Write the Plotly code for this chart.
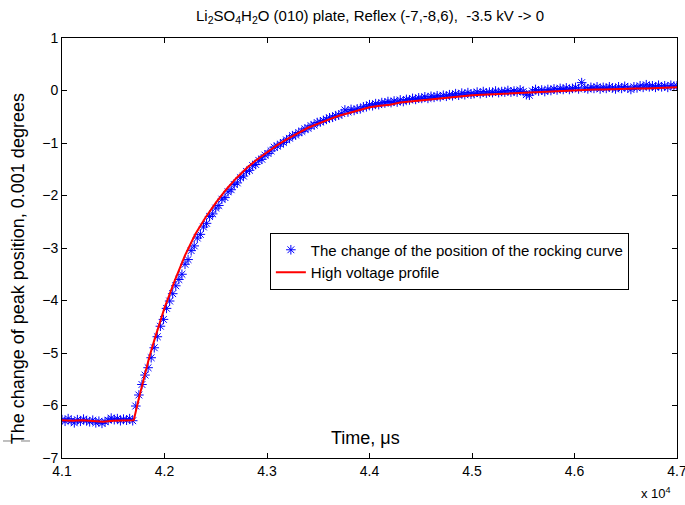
import plotly.graph_objects as go

# ---- data ----
# measured points: time step 30 microseconds starting at 41000
t_start = 41000
t_step = 30
shift_values = [
    -6.27, -6.30, -6.25, -6.29, -6.33, -6.27, -6.30, -6.26, -6.29, -6.31,
    -6.28, -6.33, -6.30, -6.34, -6.31, -6.28, -6.24, -6.27, -6.25, -6.29,
    -6.26, -6.28, -6.25, -6.29,
    -6.01, -5.80, -5.60, -5.42, -5.28, -5.09, -4.90, -4.69, -4.49, -4.36,
    -4.15, -4.01, -3.87, -3.72, -3.60,
    -3.50, -3.31, -3.22, -3.05, -2.96, -2.81, -2.74, -2.60, -2.53, -2.40,
    -2.35, -2.24, -2.19, -2.07, -2.04, -1.93, -1.89, -1.79, -1.76, -1.66,
    -1.63, -1.54, -1.52, -1.43, -1.41, -1.33, -1.31, -1.23, -1.20, -1.15,
    -1.08, -1.06, -1.02, -0.99, -0.94, -0.91, -0.86, -0.85, -0.80, -0.78,
    -0.73, -0.72, -0.67, -0.66, -0.61, -0.60, -0.57, -0.55, -0.52, -0.51,
    -0.48, -0.47, -0.44, -0.37, -0.41, -0.36, -0.38, -0.35, -0.35, -0.31,
    -0.31, -0.27, -0.29, -0.25, -0.27, -0.23, -0.24, -0.21, -0.23, -0.20,
    -0.22, -0.18, -0.21, -0.17, -0.18, -0.15, -0.17, -0.14, -0.15, -0.12,
    -0.15, -0.11, -0.13, -0.10, -0.12, -0.09, -0.11, -0.08, -0.10, -0.06,
    -0.09, -0.05, -0.08, -0.04, -0.07, -0.06, -0.03, -0.06, -0.02, -0.05,
    -0.03, -0.04, -0.01, -0.04, -0.02, -0.03, 0.00, -0.03, -0.01, -0.03,
    0.01, -0.02, -0.08, -0.09, -0.01, 0.02, -0.01, 0.01, -0.02, 0.02,
    0.00, 0.03, 0.01, 0.04, 0.02, 0.05, 0.02, 0.04, 0.06, 0.03,
    0.15, 0.05, 0.03, 0.06, 0.04, 0.07, 0.03, 0.06, 0.04, 0.07,
    0.05, 0.03, 0.07, 0.04, 0.08, 0.05, 0.02, 0.07, 0.05, 0.09,
    0.06, 0.11, 0.07, 0.09, 0.06, 0.10, 0.07, 0.09, 0.06, 0.10,
    0.08, 0.09,
]
shift_times = [t_start + t_step * i for i in range(len(shift_values))]

# high voltage profile
hv_times = [
    41000, 41100, 41200, 41300, 41400, 41500, 41600, 41700, 41750, 41800,
    41850, 41900, 41950, 42000, 42100, 42200, 42300, 42400, 42500, 42600,
    42700, 42800, 42900, 43000, 43100, 43200, 43300, 43400, 43500, 43600,
    43700, 43800, 43900, 44000, 44100, 44200, 44300, 44400, 44500, 44600,
    44700, 44800, 44900, 45000, 45100, 45200, 45300, 45400, 45500, 45600,
    45700, 45800, 45900, 46000, 46100, 46200, 46300, 46400, 46500, 46600,
    46700, 46800, 46900, 47000,
]
hv_values = [
    -6.28, -6.29, -6.28, -6.30, -6.31, -6.29, -6.28, -6.28, -5.86, -5.46,
    -5.09, -4.76, -4.45, -4.14, -3.62, -3.14, -2.74, -2.42, -2.14, -1.89,
    -1.67, -1.48, -1.32, -1.18, -1.04, -0.92, -0.81, -0.71, -0.63, -0.55,
    -0.48, -0.43, -0.37, -0.32, -0.29, -0.27, -0.23, -0.21, -0.18, -0.17,
    -0.14, -0.12, -0.10, -0.09, -0.08, -0.07, -0.06, -0.05, -0.04, -0.03,
    -0.02, -0.01, 0.00, 0.00, 0.01, 0.02, 0.02, 0.03, 0.03, 0.04,
    0.04, 0.05, 0.06, 0.06,
]

x_tick_vals = [41000, 42000, 43000, 44000, 45000, 46000, 47000]
x_tick_text = ["4.1", "4.2", "4.3", "4.4", "4.5", "4.6", "4.7"]
y_tick_vals = [-7, -6, -5, -4, -3, -2, -1, 0, 1]

title_text = "Li<sub>2</sub>SO<sub>4</sub>H<sub>2</sub>O (010) plate, Reflex (-7,-8,6),  -3.5 kV -> 0"
series1_name = "The change of the position of the rocking curve"
series2_name = "High voltage profile"

FONT = "Liberation Sans, Arial, sans-serif"

fig = go.Figure()
fig.add_trace(go.Scatter(
    x=shift_times, y=shift_values, mode="markers", name=series1_name,
    marker=dict(symbol="asterisk-open", size=8, color="#0000ff",
                line=dict(color="#0000ff", width=1)),
))
fig.add_trace(go.Scatter(
    x=hv_times, y=hv_values, mode="lines", name=series2_name,
    line=dict(color="#ff0000", width=2),
))

axis_common = dict(
    showline=True, linecolor="black", linewidth=1, mirror="ticks",
    ticks="inside", ticklen=5, tickcolor="black", showgrid=False,
    zeroline=False, tickfont=dict(family=FONT, size=14, color="black"),
    ticklabeloverflow="allow", automargin=False,
)
fig.update_xaxes(range=[41000, 47000], tickvals=x_tick_vals,
                 ticktext=x_tick_text, **axis_common)
fig.update_yaxes(range=[-7, 1], tickvals=y_tick_vals, **axis_common)

fig.update_layout(
    width=685, height=505, autosize=False,
    margin=dict(l=62, r=8, t=38, b=47),
    paper_bgcolor="white", plot_bgcolor="white",
    font=dict(family=FONT, color="black"),
    showlegend=True,
    legend=dict(x=0.338, y=0.469, xanchor="left", yanchor="middle",
                bgcolor="white", bordercolor="black", borderwidth=1,
                font=dict(family=FONT, size=15, color="black"),
                tracegroupgap=0, itemwidth=30),
    annotations=[
        dict(text=title_text, x=0.5, y=1, xref="paper", yref="paper",
             xanchor="center", yanchor="bottom", yshift=10, showarrow=False,
             font=dict(family=FONT, size=15, color="black")),
        dict(text="The change of peak position, 0.001 degrees",
             x=-0.071, y=0.45, xref="paper", yref="paper", textangle=-90,
             xanchor="center", yanchor="middle", showarrow=False,
             font=dict(family=FONT, size=18, color="black")),
        dict(text="Time, \u03bcs", x=0.4927, y=0.0476, xref="paper",
             yref="paper", xanchor="center", yanchor="middle",
             showarrow=False, font=dict(family=FONT, size=18, color="black")),
        dict(text="x 10<sup>4</sup>", x=0.966, y=-0.083, xref="paper",
             yref="paper", xanchor="center", yanchor="middle",
             showarrow=False, font=dict(family=FONT, size=13, color="black")),
    ],
    shapes=[
        dict(type="line", xref="paper", yref="paper", x0=-0.0959, x1=-0.0488,
             y0=0.0405, y1=0.0405, line=dict(color="gray", width=1, dash="dash")),
    ],
)

fig.write_html(
    "out.html",
    config={"displayModeBar": False, "responsive": False},
    post_script=(
        "document.documentElement.style.overflow='hidden';"
        "document.body.style.overflow='hidden';"
        "document.body.style.margin='0px';"
        "Plotly.relayout('{plot_id}', {width: 685, height: 505});"
    ),
)
